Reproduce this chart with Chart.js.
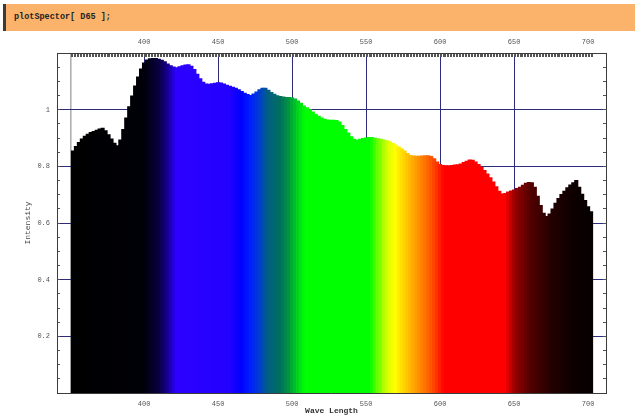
<!DOCTYPE html>
<html>
<head>
<meta charset="utf-8">
<script src="https://cdn.jsdelivr.net/npm/chart.js@4.4.1/dist/chart.umd.min.js"></script>
<style>
body { margin: 0; background: #fff; }
#hdr {
  position: absolute; left: 3px; top: 4px; width: 632px; height: 27px;
  box-sizing: border-box; padding-left: 8px;
  background: #fbb36b; border-left: 3px solid #3a3a3a;
  font: bold 8.5px 'Liberation Mono', monospace; line-height: 27px; color: #222;
  white-space: pre;
}
#c { position: absolute; left: 0; top: 0; }
</style>
</head>
<body>
<div id="hdr">plotSpector[ D65 ];</div>
<canvas id="c" width="635" height="420"></canvas>
<script>
// wavelength of each bar (nm)
var wavelengths = [
  352,354,356,358,360,362,364,366,368,370,
  372,374,376,378,380,382,384,386,388,390,
  392,394,396,398,400,402,404,406,408,410,
  412,414,416,418,420,422,424,426,428,430,
  432,434,436,438,440,442,444,446,448,450,
  452,454,456,458,460,462,464,466,468,470,
  472,474,476,478,480,482,484,486,488,490,
  492,494,496,498,500,502,504,506,508,510,
  512,514,516,518,520,522,524,526,528,530,
  532,534,536,538,540,542,544,546,548,550,
  552,554,556,558,560,562,564,566,568,570,
  572,574,576,578,580,582,584,586,588,590,
  592,594,596,598,600,602,604,606,608,610,
  612,614,616,618,620,622,624,626,628,630,
  632,634,636,638,640,642,644,646,648,650,
  652,654,656,658,660,662,664,666,668,670,
  672,674,676,678,680,682,684,686,688,690,
  692,694,696,698,700,702
];

// relative intensity
var intensity = [
  .854,.870,.884,.896,.906,.913,.919,.923,.927,.931,
  .934,.925,.911,.896,.881,.872,.893,.930,.970,1.010,
  1.048,1.083,1.115,1.143,1.164,1.175,1.179,1.180,1.180,1.178,
  1.174,1.169,1.161,1.155,1.150,1.148,1.151,1.155,1.157,1.158,
  1.153,1.141,1.125,1.109,1.096,1.090,1.089,1.091,1.093,1.095,
  1.094,1.090,1.086,1.082,1.079,1.075,1.070,1.064,1.058,1.053,
  1.050,1.055,1.062,1.070,1.075,1.075,1.068,1.060,1.054,1.049,
  1.046,1.044,1.043,1.043,1.041,1.037,1.030,1.022,1.013,1.006,
  .999,.991,.983,.976,.970,.966,.963,.962,.962,.961,
  .956,.944,.930,.917,.904,.895,.892,.895,.898,.900,
  .901,.901,.899,.897,.895,.893,.890,.886,.881,.875,
  .869,.862,.854,.845,.838,.836,.835,.835,.836,.837,
  .837,.834,.826,.815,.806,.803,.802,.802,.803,.804,
  .805,.808,.813,.818,.822,.821,.815,.806,.796,.785,
  .773,.759,.744,.728,.712,.702,.704,.709,.713,.716,
  .721,.726,.733,.740,.743,.742,.726,.694,.661,.634,
  .623,.631,.649,.669,.686,.700,.712,.724,.734,.742,
  .750,.726,.701,.679,.657,.639
];

var xTickLabels = [400, 450, 500, 550, 600, 650, 700];
var xGridLines = [400, 450, 500, 550, 600, 650];
var yTickLabels = [0.2, 0.4, 0.6, 0.8, 1];

// colour of the spectrum: [nm, r, g, b]
var colorStops = [
  [351,0,0,0],[400,0,0,8],[411,10,0,70],[417,25,0,160],[422,45,0,255],
  [458,35,0,255],[466,0,0,255],[472,0,30,255],[478,0,60,210],[484,0,95,130],
  [492,0,110,95],[498,0,150,65],[504,0,210,30],[509,0,255,0],[553,0,255,0],
  [558,100,255,0],[565,220,255,0],[570,255,255,0],[576,255,210,0],[585,255,150,0],
  [595,255,80,0],[603,255,0,0],[644,255,0,0],[651,150,0,0],[662,80,0,0],
  [676,35,0,0],[689,15,0,0],[703,5,0,0]
];

function barColor(nm) {
  for (var i = 1; i < colorStops.length; i++) {
    var a = colorStops[i - 1], b = colorStops[i];
    if (nm <= b[0]) {
      var t = Math.max(0, (nm - a[0]) / (b[0] - a[0]));
      var c = [1, 2, 3].map(function (j) { return Math.round(a[j] + (b[j] - a[j]) * t); });
      return 'rgb(' + c.join(',') + ')';
    }
  }
  var l = colorStops[colorStops.length - 1];
  return 'rgb(' + l[1] + ',' + l[2] + ',' + l[3] + ')';
}

var XMIN = 341.2, XMAX = 712.1;
var tickFont = { family: 'Liberation Mono', size: 7 };
var frameColor = '#3c3c3c';
var gridColor = '#2c2c7a';

function yLabel(v) {
  var k = Math.round(v * 20);
  for (var i = 0; i < yTickLabels.length; i++) {
    if (Math.round(yTickLabels[i] * 20) === k) return String(yTickLabels[i]);
  }
  return '';
}

var ctx = document.getElementById('c').getContext('2d');
new Chart(ctx, {
  type: 'bar',
  data: {
    datasets: [{
      data: wavelengths.map(function (w, i) { return { x: w, y: intensity[i] }; }),
      backgroundColor: wavelengths.map(barColor),
      borderWidth: 0,
      barPercentage: 1,
      categoryPercentage: 1,
      inflateAmount: 0.6,   // overlap neighbours so no seams show
      xAxisID: 'x',
      yAxisID: 'y'
    }]
  },
  options: {
    responsive: false,
    animation: false,
    events: [],
    layout: { padding: 0 },
    plugins: { legend: { display: false }, tooltip: { enabled: false } },
    scales: {
      x: {
        type: 'linear', position: 'bottom', min: XMIN, max: XMAX, offset: false,
        afterBuildTicks: function (s) {
          s.ticks = [{ value: 350.6 }].concat(xTickLabels.map(function (v) { return { value: v }; }));
        },
        afterFit: function (s) { s.height = 27; },
        grid: {
          offset: false, drawTicks: false,
          color: function (c) {
            var v = c.tick ? c.tick.value : null;
            if (v === 350.6) return '#b0b0b0';
            return xGridLines.indexOf(v) >= 0 ? gridColor : 'rgba(0,0,0,0)';
          },
          lineWidth: function (c) { return c.tick && c.tick.value === 350.6 ? 1.6 : 1; }
        },
        border: { color: frameColor },
        ticks: {
          autoSkip: false, maxRotation: 0, padding: 7, font: tickFont, color: '#555',
          callback: function (v) { return xTickLabels.indexOf(v) >= 0 ? String(v) : ''; }
        },
        title: {
          display: true, text: 'Wave Length', color: '#333',
          font: { family: 'Liberation Mono', size: 8, weight: 'bold' },
          padding: { top: 0, bottom: 4 }
        }
      },
      x2: {
        type: 'linear', position: 'top', min: XMIN, max: XMAX, offset: false,
        afterBuildTicks: function (s) {
          var t = [];
          for (var v = 351; v <= 703; v++) t.push({ value: v });
          s.ticks = t;
        },
        afterFit: function (s) { s.height = 53; },
        grid: { offset: false, drawOnChartArea: false, tickLength: -4, tickColor: '#555' },
        border: { color: frameColor },
        ticks: {
          autoSkip: false, maxRotation: 0, padding: 11, font: tickFont, color: '#555',
          callback: function (v) { return xTickLabels.indexOf(v) >= 0 ? String(v) : ''; }
        }
      },
      y: {
        position: 'left', min: 0, max: 1.2,
        afterFit: function (s) { s.width = 57; },
        grid: {
          tickLength: -3, tickColor: '#555',
          color: function (c) {
            var k = c.tick ? Math.round(c.tick.value * 20) : 0;
            return (k % 4 === 0 && k > 0 && k < 24) ? gridColor : 'rgba(0,0,0,0)';
          }
        },
        border: { color: frameColor },
        ticks: { stepSize: 0.05, autoSkip: false, padding: 10, font: tickFont, color: '#555', callback: yLabel },
        title: {
          display: true, text: 'Intensity', color: '#444',
          font: { family: 'Liberation Mono', size: 8 },
          padding: { top: 23.5, bottom: 0 }
        }
      },
      y2: {
        position: 'right', min: 0, max: 1.2,
        afterFit: function (s) { s.width = 29; },
        grid: { drawOnChartArea: false, tickLength: -3, tickColor: '#555' },
        border: { color: frameColor },
        ticks: { stepSize: 0.05, autoSkip: false, font: tickFont, callback: function () { return ''; } }
      }
    }
  }
});
</script>
</body>
</html>
